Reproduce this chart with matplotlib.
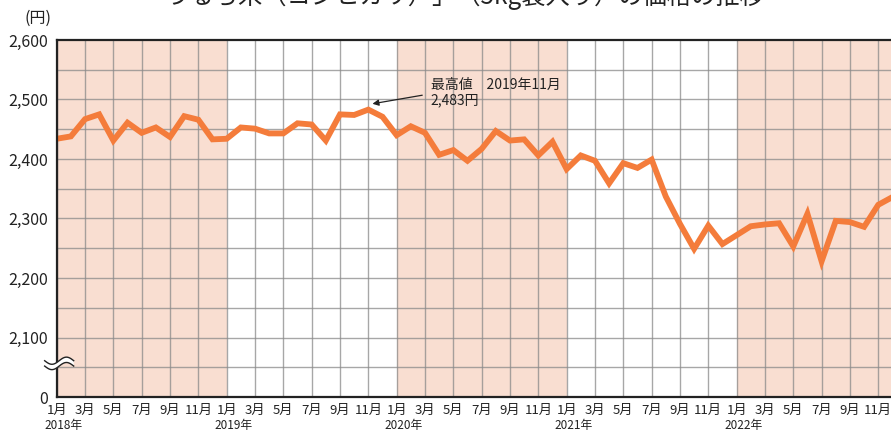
import numpy as np
import matplotlib
matplotlib.use("Agg")
import matplotlib.pyplot as plt
from matplotlib.patches import Polygon

plt.rcParams['font.family'] = ['Noto Sans CJK JP', 'DejaVu Sans']

years = [2018, 2019, 2020, 2021, 2022]
prices_2018 = [2434, 2438, 2467, 2475, 2431, 2461, 2444, 2453, 2437, 2472, 2466, 2433]
prices_2019 = [2434, 2453, 2451, 2443, 2443, 2460, 2458, 2431, 2475, 2474, 2483, 2471]
prices_2020 = [2440, 2455, 2444, 2407, 2415, 2397, 2417, 2447, 2431, 2433, 2406, 2429]
prices_2021 = [2383, 2406, 2397, 2359, 2393, 2385, 2399, 2337, 2291, 2249, 2288, 2257]
prices_2022 = [2272, 2287, 2290, 2292, 2253, 2308, 2228, 2296, 2294, 2286, 2323, 2336]
prices = prices_2018 + prices_2019 + prices_2020 + prices_2021 + prices_2022
month_labels = [f"{m}月" for m in range(1, 13, 2)]
ytick_values = [0, 2100, 2200, 2300, 2400, 2500, 2600]
ytick_labels = ["0", "2,100", "2,200", "2,300", "2,400", "2,500", "2,600"]
shaded_years = [2018, 2020, 2022]
base = 2000  # axis break offset

W, H = 891, 433
fig = plt.figure(figsize=(W / 100, H / 100), dpi=100)
left, right, top, bottom = 56.7, 891, 40, 397
ax = fig.add_axes([left / W, 1 - bottom / H, (right - left) / W, (bottom - top) / H])

n = len(prices)
x = np.arange(n)
y = np.array(prices) - base

ax.set_xlim(0, 58.9)
ax.set_ylim(0, 600)

# shading
for yr in shaded_years:
    i0 = (yr - years[0]) * 12
    ax.axvspan(i0, i0 + 12, color='#F9DED1', zorder=0, lw=0)

# grid
for gx in range(0, 60, 2):
    ax.axvline(gx, color='#8a8a8a', lw=1.0, alpha=0.75, zorder=1)
for gy in range(50, 600, 50):
    ax.axhline(gy, color='#8a8a8a', lw=1.0, alpha=0.75, zorder=1)

ax.plot(x, y, color='#F47C3B', lw=4.2, solid_joinstyle='miter', zorder=3)

# spines
for s in ['left', 'top', 'bottom']:
    ax.spines[s].set_linewidth(1.6)
    ax.spines[s].set_color('#222222')
    ax.spines[s].set_zorder(4)
ax.spines['right'].set_visible(False)

ax.set_yticks([0 if v == 0 else v - base for v in ytick_values])
ax.set_yticklabels(ytick_labels, fontsize=11.5, color='#222222')
ax.tick_params(axis='y', length=0, pad=6)

xt = list(range(0, 60, 2))
ax.set_xticks(xt)
ax.set_xticklabels([month_labels[(i % 12) // 2] for i in xt], fontsize=9.5, color='#222222')
ax.tick_params(axis='x', length=0, pad=5)

for k, yr in enumerate(years):
    ax.text(k * 12 + 0.5, -(429 - 397) / 357, f"{yr}年", transform=ax.get_xaxis_transform(),
            ha='center', va='baseline', fontsize=8.5, color='#222222')

# axis break symbol
t = np.linspace(0, 1, 60)
bx = -0.85 + 2.05 * t
amp = 6
c1 = 61 + amp * np.sin(2 * np.pi * t + np.pi)
c2 = c1 - 9
poly = Polygon(np.column_stack([np.r_[bx, bx[::-1]], np.r_[c1, c2[::-1]]]),
               closed=True, facecolor='white', edgecolor='none', clip_on=False, zorder=5)
ax.add_patch(poly)
ax.plot(bx, c1, color='#222222', lw=1.0, clip_on=False, zorder=6)
ax.plot(bx, c2, color='#222222', lw=1.0, clip_on=False, zorder=6)

# annotation
peak_i = int(np.argmax(prices))
ax.annotate("", xy=(peak_i + 0.1, prices[peak_i] - base + 9), xytext=(26.0, 508),
            arrowprops=dict(arrowstyle='-|>', color='#222222', lw=0.9,
                            mutation_scale=9), zorder=6)
ax.text(26.4, 525, "最高値　2019年11月", fontsize=10, color='#222222', va='center', ha='left', zorder=6)
ax.text(26.4, 498, "2,483円", fontsize=10, color='#222222', va='center', ha='left', zorder=6)

fig.text(24 / W, 1 - 18 / H, "(円)", fontsize=11.5, color='#222222', ha='left', va='center')
fig.text(453 / W, 1 + 3.5 / H, "「うるち米（コシヒカリ）」（5kg袋入り）の価格の推移",
         fontsize=17.5, color='#222222', ha='center', va='center')

fig.savefig("out.png", dpi=100)
